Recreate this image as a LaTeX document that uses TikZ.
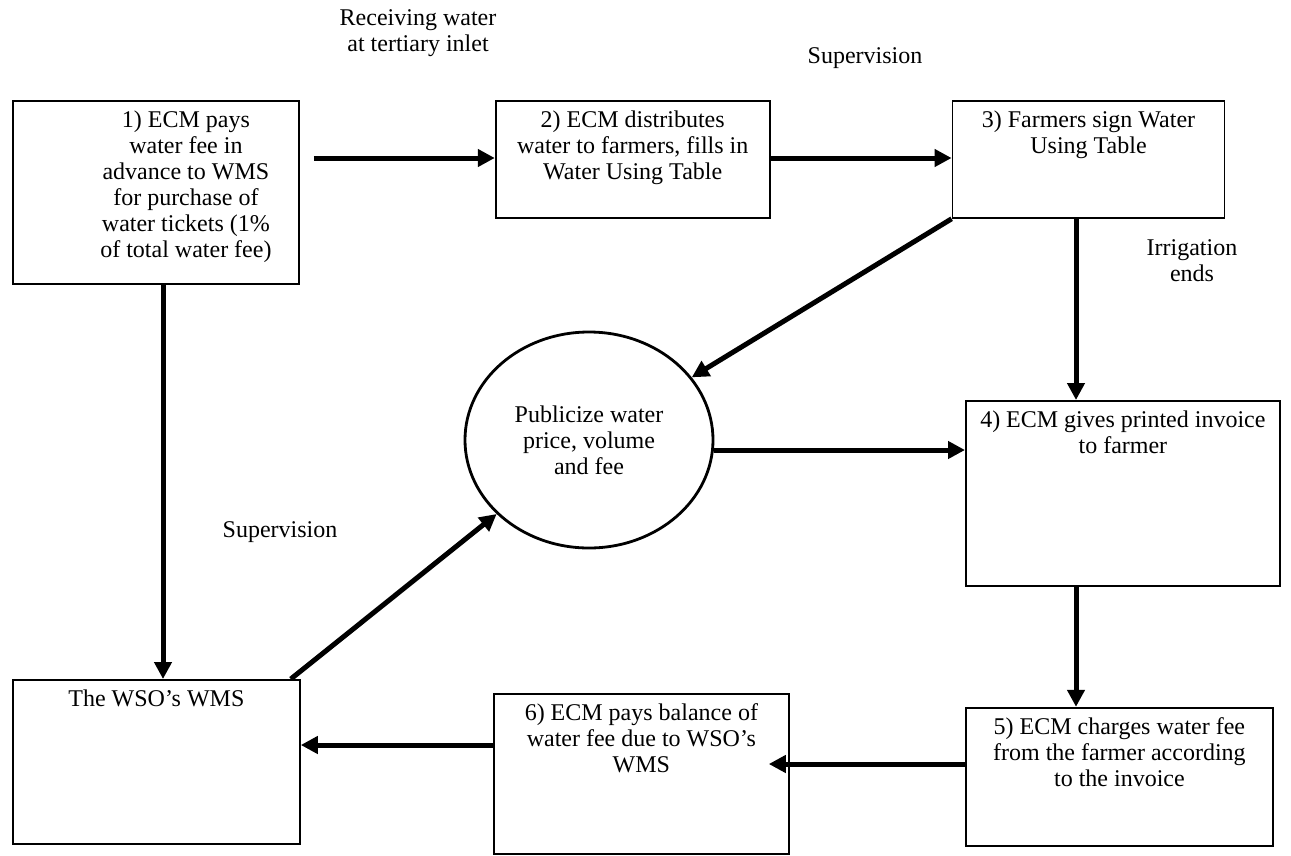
\documentclass[tikz,border=0pt]{standalone}
\usepackage{fontspec}
\setmainfont{Liberation Serif}
\usetikzlibrary{positioning,shapes.geometric,arrows.meta}

% box text hangs from the top of the box
\newcommand{\boxbody}[3]{\parbox[t][#2][t]{#1}{\centering #3}}

\begin{document}
\begin{tikzpicture}
                    [x=1pt, y=-1pt,
                    font=\fontsize{24}{26}\selectfont,
                    stepbox/.style={rectangle, draw,
                        line width=1.8pt,
                        inner xsep=0pt, inner ysep=10pt},
                    talk/.style={ellipse, draw,
                        line width=2.8pt,
                        minimum width=248pt, minimum height=216pt,
                        inner sep=0pt, align=center},
                    note/.style={align=center, inner sep=0pt},
                    flow/.style={-{Triangle[length=17pt,width=17pt]},
                        line width=5pt}]

                    \path[fill=white] (0,0) rectangle (1291,855);

                    \node[stepbox, anchor=north west] (box1) at (12,100)
                        {\hspace*{60pt}\boxbody{226pt}{163pt}{1) ECM pays\\ water fee in\\ advance to WMS\\ for purchase of\\ water tickets (1\%\\ of total water fee)}};
                    \node[stepbox, right=195pt of box1.north east, anchor=north west] (box2)
                        {\boxbody{274pt}{97pt}{2) ECM distributes\\ water to farmers, fills in\\ Water Using Table}};
                    \node[stepbox, right=181pt of box2.north east, anchor=north west] (box3)
                        {\boxbody{272pt}{97pt}{3) Farmers sign Water\\ Using Table}};
                    \node[stepbox, anchor=north west] (box4) at (965,400)
                        {\boxbody{314pt}{165pt}{4) ECM gives printed invoice\\ to farmer}};
                    \node[stepbox, below=120pt of box4.south west, anchor=north west] (box5)
                        {\boxbody{307pt}{118pt}{5) ECM charges water fee\\ from the farmer according\\ to the invoice}};
                    \node[stepbox, anchor=north west] (box6) at (493,693)
                        {\boxbody{295pt}{140pt}{6) ECM pays balance of\\ water fee due to WSO’s\\ WMS}};
                    \node[stepbox, anchor=north west] (wms) at (12,679)
                        {\boxbody{287pt}{144pt}{The WSO’s WMS}};
                    \node[talk] (pub) at (589,440)
                        {Publicize water\\ price, volume\\ and fee};

                    % labels on the flows
                    \node[note] (recv) at (418,33) {Receiving water\\ at tertiary inlet};
                    \node[note] (sup1) at (865,58) {Supervision};
                    \node[note] (irr) at (1192,261) {Irrigation\\ ends};
                    \node[note] (sup2) at (280,532) {Supervision};

                    \coordinate (top) at (0,158);
                    \coordinate (out1) at ([xshift=14pt]box1.north east);
                    \coordinate (down) at (163,0);
                    \coordinate (drop) at (1076,0);
                    \coordinate (price) at ([yshift=-10pt]pub.east);
                    \coordinate (wmsout) at ([xshift=-10pt]wms.north east);
                    \coordinate (fee) at (0,764);
                    \coordinate (in6) at ([xshift=-21pt]box6.east);
                    \coordinate (bal) at (0,745);

                    \path[flow]
                        (out1 |- top)       edge (box2.west |- top)
                        (box2.east |- top)  edge (box3.west |- top)
                        (box3.south west)   edge (pub)
                        (box3.south -| drop) edge (box4.north -| drop)
                        (price)             edge (price -| box4.west)
                        (box4.south -| drop) edge (box5.north -| drop)
                        (box5.west |- fee)  edge (in6 |- fee)
                        (box6.west |- bal)  edge (wms.east |- bal)
                        (box1.south -| down) edge (wms.north -| down)
                        (wmsout)            edge (pub);
                \end{tikzpicture}
\end{document}
